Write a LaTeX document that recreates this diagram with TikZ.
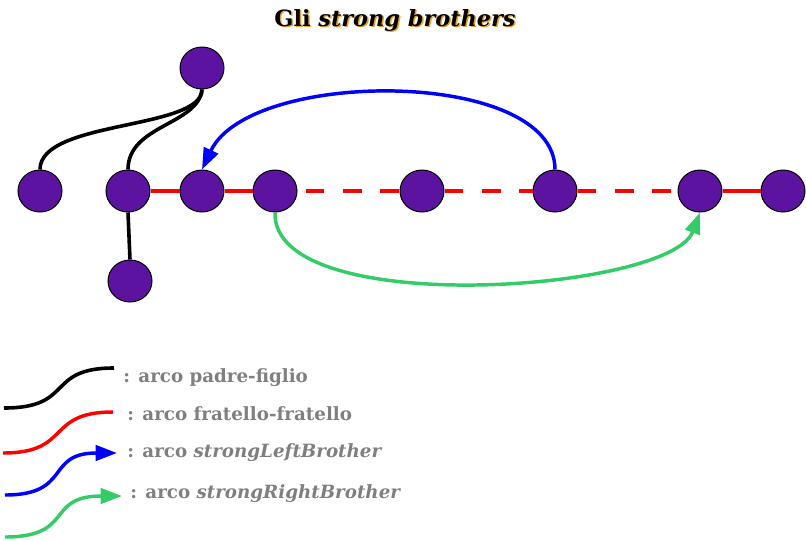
\documentclass[tikz,border=0pt]{standalone}
\usepackage{fontspec}
\setmainfont{DejaVu Serif}
\usetikzlibrary{shapes.geometric,arrows.meta}
\definecolor{nodepurple}{HTML}{5B13A0}
\definecolor{legendgreen}{HTML}{33CC66}
\definecolor{legendgray}{HTML}{7F7F7F}
\definecolor{shadoworange}{HTML}{E8A030}
\tikzset{
  vertex/.style={ellipse,draw=black,line width=0.75pt,fill=nodepurple,minimum width=33pt,minimum height=31.5pt,inner sep=0pt},
  parent/.style={draw=black,line width=2.7pt},
  sib/.style={draw=red,line width=2.6pt},
  sibdash/.style={draw=red,line width=2.6pt,dash pattern=on 14pt off 14pt},
  leftarc/.style={draw=blue,line width=2.6pt,-{Triangle[length=16pt,width=11.5pt]}},
  rightarc/.style={draw=legendgreen,line width=2.6pt,-{Triangle[length=16pt,width=11.5pt]}},
  legtext/.style={anchor=west,text=legendgray,font=\bfseries\fontsize{13.7pt}{15pt}\selectfont,inner sep=0pt},
  titletext/.style={font=\bfseries\fontsize{16.8pt}{19pt}\selectfont,inner sep=0pt}
}
\begin{document}
\begin{tikzpicture}[x=0.75pt,y=-0.75pt]
\useasboundingbox (0,0) rectangle (806,540);
% title
\node[titletext,text=shadoworange] (titleshadow) at (396.5,21.5) {Gli \textit{strong brothers}};
\node[titletext,text=black] (title) at (395,20) {Gli \textit{strong brothers}};
% nodes
\node[vertex] (T) at (202,68) {};
\node[vertex] (A) at (40,191) {};
\node[vertex] (B) at (128,191) {};
\node[vertex] (C) at (202,191) {};
\node[vertex] (D) at (275,191) {};
\node[vertex] (E) at (422,191) {};
\node[vertex] (F) at (555,191) {};
\node[vertex] (G) at (700,191) {};
\node[vertex] (H) at (783,191) {};
\node[vertex] (Bot) at (130,281) {};
% parent-child arcs
\draw[parent] (T.south) .. controls (202,130) and (40,120) .. (A.north);
\draw[parent] (T.south) .. controls (198,125) and (128,125) .. (B.north);
\draw[parent] (B.south) -- (Bot.north);
% sibling arcs
\draw[sib] (B.east) -- (C.west);
\draw[sib] (C.east) -- (D.west);
\draw[sibdash,dash phase=-6pt] (D.east) -- (E.west);
\draw[sibdash] (E.east) -- (F.west);
\draw[sibdash] (F.east) -- (G.west);
\draw[sib] (G.east) -- (H.west);
% strong brothers
\draw[leftarc] (F.north) .. controls (555,68) and (250,68) .. (C.north);
\draw[rightarc] (D.south) .. controls (272,320) and (670,292) .. (G.south);
% legend
\coordinate (l1a) at (4,408); \coordinate (l1b) at (114,368);
\coordinate (l2a) at (3,453); \coordinate (l2b) at (113,412);
\coordinate (l3a) at (5,495); \coordinate (l3b) at (117,453);
\coordinate (l4a) at (5,537); \coordinate (l4b) at (122,496);
\draw[parent] (l1a) .. controls (75,408) and (45,368) .. (l1b);
\draw[sib] (l2a) .. controls (72,453) and (45,412) .. (l2b);
\draw[leftarc] (l3a) .. controls (72,495) and (45,453) .. (l3b);
\draw[rightarc] (l4a) .. controls (75,537) and (45,496) .. (l4b);
\node[legtext] (t1) at (123,378) {: arco padre-figlio};
\node[legtext] (t2) at (127,414) {: arco fratello-fratello};
\node[legtext] (t3) at (127,453) {: arco \textit{strongLeftBrother}};
\node[legtext] (t4) at (130,494) {: arco \textit{strongRightBrother}};
\end{tikzpicture}
\end{document}
